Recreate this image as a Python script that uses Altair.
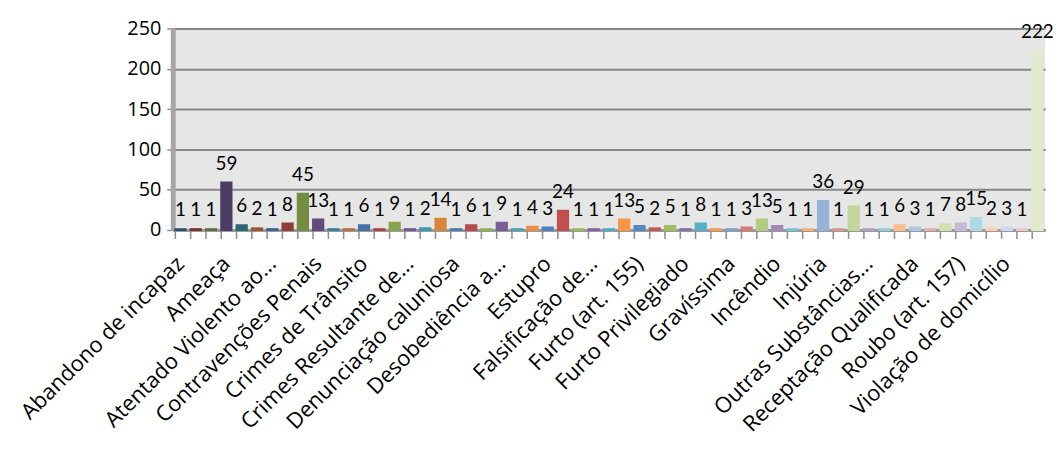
import json
import altair as alt
import pandas as pd

# Visible axis labels (Excel shows every third category)
labels = ["Abandono de incapaz", "Ameaça", "Atentado Violento ao...",
          "Contravenções Penais", "Crimes de Trânsito", "Crimes Resultante de...",
          "Denunciação caluniosa", "Desobediência a...", "Estupro",
          "Falsificação de...", "Furto (art.  155)", "Furto Privilegiado",
          "Gravíssima", "Incêndio", "Injúria", "Outras Substâncias...",
          "Receptação Qualificada", "Roubo (art. 157)", "Violação de domicílio"]

values = [1, 1, 1, 59, 6, 2, 1, 8, 45, 13, 1, 1, 6, 1, 9, 1, 2, 14, 1, 6, 1, 9, 1, 4,
          3, 24, 1, 1, 1, 13, 5, 2, 5, 1, 8, 1, 1, 3, 13, 5, 1, 1, 36, 1, 29, 1, 1, 6,
          3, 1, 7, 8, 15, 2, 3, 1, 222]

# Excel 2007 "vary colors by point" palette: six accents, shaded dark -> light
accents = ["#4F81BD", "#C0504D", "#9BBB59", "#8064A2", "#4BACC6", "#F79646"]
group_factors = [-0.4, -0.25, -0.12, -0.05, 0.0, 0.05, 0.25, 0.4, 0.55, 0.7]


def adjust(hexc, f):
    r, g, b = int(hexc[1:3], 16), int(hexc[3:5], 16), int(hexc[5:7], 16)
    if f < 0:
        r, g, b = [int(c * (1 + f)) for c in (r, g, b)]
    else:
        r, g, b = [int(c + (255 - c) * f) for c in (r, g, b)]
    return "#%02X%02X%02X" % (r, g, b)


n = len(values)
colors = [adjust(accents[i % 6], group_factors[i // 6]) for i in range(n)]
axis_names = [labels[i // 3] if i % 3 == 0 else "" for i in range(n)]

df = pd.DataFrame({"i": list(range(n)), "v": values, "c": colors})

W, H = 879, 203
FONT = "Open Sans"

x = alt.X("i:O", title=None,
          scale=alt.Scale(paddingInner=0.33, paddingOuter=0.17),
          axis=alt.Axis(labelExpr=f"{json.dumps(axis_names, ensure_ascii=False)}[datum.value]",
                        labelAngle=-45, labelAlign="right", labelBaseline="middle",
                        labelPadding=30, labelFontSize=22, labelFont=FONT,
                        labelColor="#000000", labelOverlap=False, labelLimit=400,
                        labelFlush=False, labelBound=False,
                        ticks=False, domainColor="#9A9A9A", domainWidth=3, grid=False))

y = alt.Y("v:Q", title=None,
          scale=alt.Scale(domain=[0, 250], nice=False),
          axis=alt.Axis(values=[0, 50, 100, 150, 200, 250], labelFontSize=20,
                        labelFont=FONT, labelColor="#000000", labelPadding=6,
                        tickColor="#8C8C8C", tickSize=6, tickWidth=1.5,
                        domainColor="#A6A6A6", domainWidth=5,
                        gridColor="#868686", gridWidth=2))

bars = alt.Chart(df).mark_bar(strokeWidth=2).encode(
    x=x, y=y,
    fill=alt.Color("c:N", scale=None),
    stroke=alt.Color("c:N", scale=None),
)

text = alt.Chart(df).mark_text(baseline="bottom", dy=-9, fontSize=19, font="Lato",
                               color="#000000").encode(
    x="i:O", y="v:Q", text="v:Q")

ticks = alt.Chart(df).mark_rule(color="#8C8C8C", strokeWidth=1.5).encode(
    x=alt.X("i:O", bandPosition=0),
    y=alt.value(H + 1), y2=alt.value(H + 9))

chart = alt.layer(bars, ticks, text).properties(
    width=W, height=H,
    autosize=alt.AutoSizeParams(type="none"),
    padding={"left": 166, "top": 19, "right": 9, "bottom": 214},
).configure_view(fill="#E6E6E6", stroke=None)

chart.save("out.html", embed_options={"renderer": "svg", "actions": False})
